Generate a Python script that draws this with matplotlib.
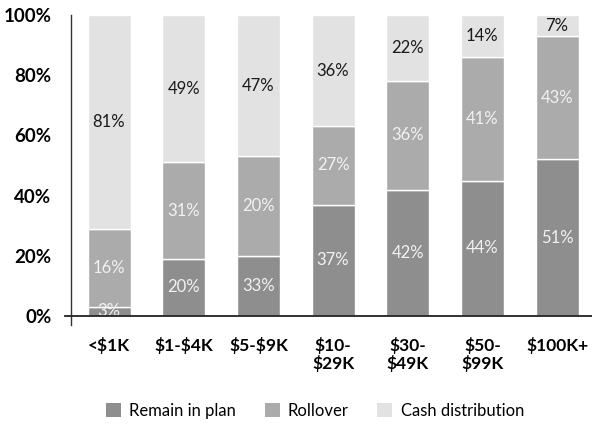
import matplotlib.pyplot as plt
import numpy as np
from matplotlib.patches import Patch

plt.rcParams['font.family'] = ['Lato', 'DejaVu Sans']
plt.rcParams['text.parse_math'] = False

categories = ['<$1K', '$1-$4K', '$5-$9K', '$10-\n$29K', '$30-\n$49K', '$50-\n$99K', '$100K+']

# segment heights as drawn in the picture
remain = [3, 19, 20, 37, 42, 45, 52]
rollover = [26, 32, 33, 26, 36, 41, 41]
cash = [71, 49, 47, 37, 22, 14, 7]

# the printed labels (they do not always match the drawn heights)
remain_lbl = [3, 20, 33, 37, 42, 44, 51]
rollover_lbl = [16, 31, 20, 27, 36, 41, 43]
cash_lbl = [81, 49, 47, 36, 22, 14, 7]

c_remain = '#8e8e8e'
c_roll = '#ababab'
c_cash = '#e2e2e2'

fig = plt.figure(figsize=(5.92, 4.28), dpi=100)
ax = fig.add_axes([71 / 592, 1 - 325 / 428, 1 - 71 / 592, (325 - 15) / 428])

x = np.arange(len(categories))
w = 0.576
remain_a = np.array(remain)
roll_a = np.array(rollover)
cash_a = np.array(cash)

ax.bar(x, remain_a, w, color=c_remain, edgecolor='white', linewidth=1)
ax.bar(x, roll_a, w, bottom=remain_a, color=c_roll, edgecolor='white', linewidth=1)
ax.bar(x, cash_a, w, bottom=remain_a + roll_a, color=c_cash, edgecolor='white', linewidth=1)

for i in range(len(categories)):
    ax.text(x[i], remain_a[i] / 2, f'{remain_lbl[i]}%', ha='center', va='center',
            color='#f2f2f2', fontsize=12)
    ax.text(x[i], remain_a[i] + roll_a[i] / 2, f'{rollover_lbl[i]}%', ha='center', va='center',
            color='#f2f2f2', fontsize=12)
    ax.text(x[i], remain_a[i] + roll_a[i] + cash_a[i] / 2, f'{cash_lbl[i]}%', ha='center',
            va='center', color='#1a1a1a', fontsize=12)

ax.set_xlim(-0.509, 6.468)
ax.set_ylim(-3, 100)
ax.axhline(0, xmin=-0.012, xmax=1, color='#222222', linewidth=1.3, clip_on=False, zorder=5)

for s in ['top', 'right', 'bottom']:
    ax.spines[s].set_visible(False)
ax.spines['left'].set_color('#333333')
ax.spines['left'].set_linewidth(1)

ax.set_yticks([0, 20, 40, 60, 80, 100])
ax.set_yticklabels([f'{v}%' for v in [0, 20, 40, 60, 80, 100]], fontsize=13.5, fontweight='bold')
ax.tick_params(axis='y', length=0, pad=14)
ax.set_xticks(x)
ax.set_xticklabels(categories, fontsize=12.5, fontweight='bold', linespacing=1.0)
ax.tick_params(axis='x', length=0, pad=9)

handles = [Patch(facecolor=c_remain), Patch(facecolor=c_roll), Patch(facecolor=c_cash)]
fig.legend(handles, ['Remain in plan', 'Rollover', 'Cash distribution'], loc='center',
           bbox_to_anchor=(315 / 592, 1 - 411 / 428), ncol=3, frameon=False, fontsize=12,
           handlelength=0.9, handleheight=0.9, handletextpad=0.5, columnspacing=1.7)

fig.savefig('out.png', dpi=100)
